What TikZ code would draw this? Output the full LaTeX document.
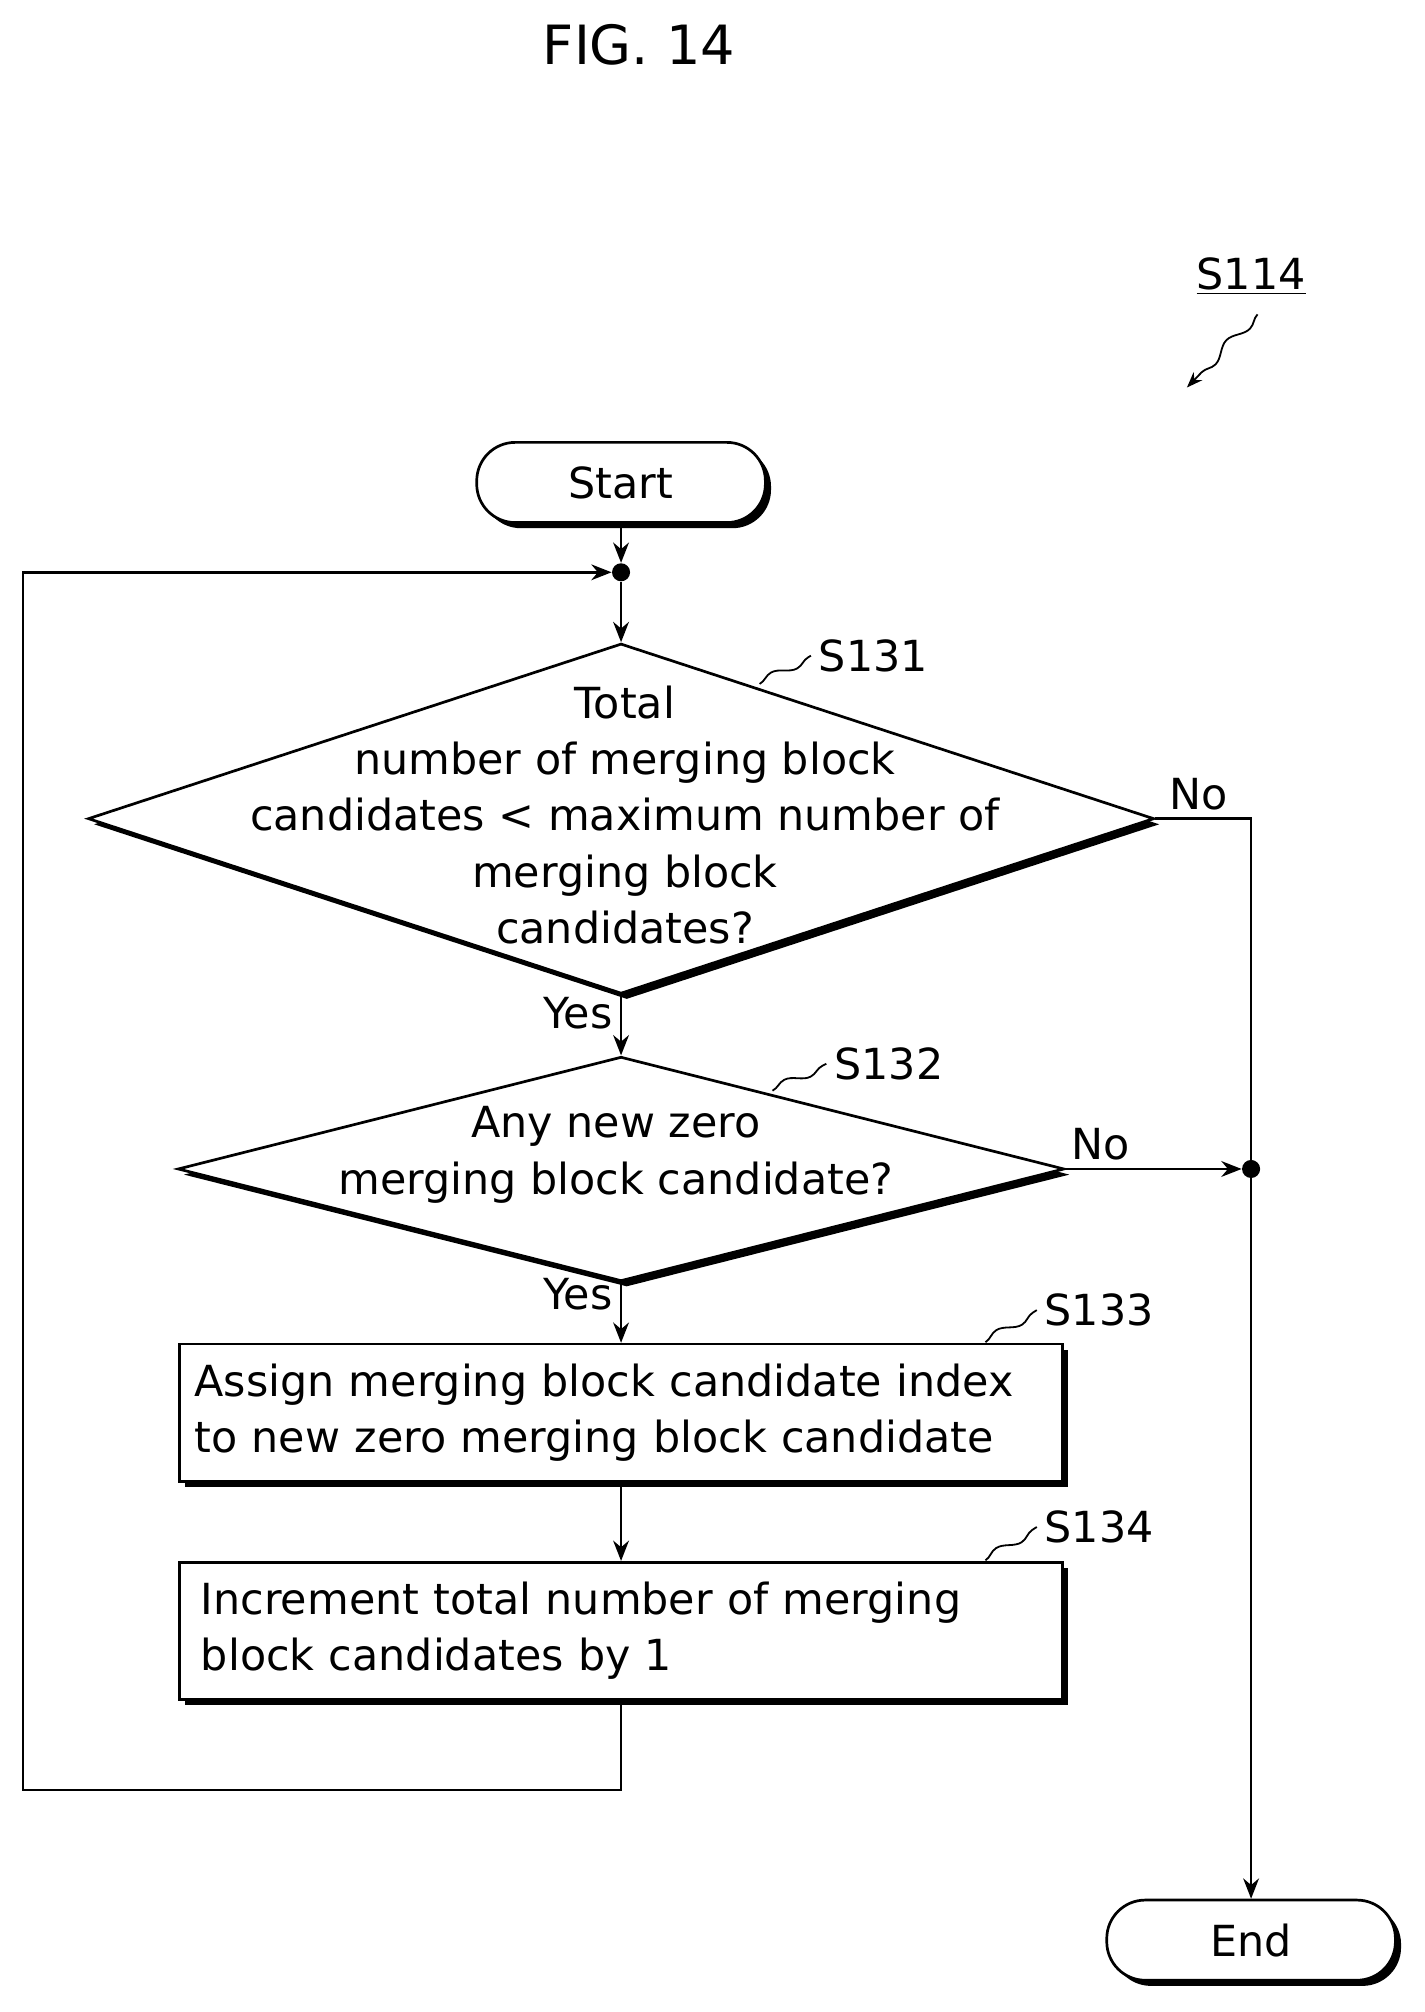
\documentclass[tikz,border=0pt]{standalone}
\usepackage{fontspec}
\setmainfont{DejaVu Sans}
\usetikzlibrary{shapes.geometric,shadows,arrows.meta,decorations.pathmorphing}
\tikzset{
 base/.style={draw, line width=1.2pt, fill=white,
   drop shadow={opacity=1, fill=black, shadow xshift=2.5pt, shadow yshift=-2.5pt}},
 term/.style={base, rounded corners=0.6cm, minimum width=4.5cm, minimum height=1.25cm},
 dia/.style={base, diamond, inner sep=0pt},
 proc/.style={base, rectangle, minimum width=13.76cm, minimum height=2.14cm},
 txt/.style={align=left, font=\fontsize{19}{25}\selectfont},
 flow/.style={line width=1.1pt, -{Stealth[length=9pt,width=7pt]}},
 dot/.style={circle, fill=black, inner sep=0pt, minimum size=8pt},
 steplbl/.style={font=\fontsize{19}{22}\selectfont, anchor=west},
 wig/.style={line width=0.8pt, decorate, decoration={snake, amplitude=2pt, segment length=22pt}}
}
\begin{document}
\begin{tikzpicture}[x=0.02cm, y=-0.02cm]
\useasboundingbox (0,0) rectangle (1110,1568);

\node[font=\fontsize{24}{28}\selectfont] (fig) at (498,35) {FIG. 14};
\node[font=\fontsize{19}{22}\selectfont] (main) at (975,215) {\underline{S114}};
\coordinate (arr) at (925,302);
\draw[wig, -{Stealth[length=7pt]}] (980,245) -- (arr);

% flow chart
\node[term] (start) at (484,376) {\fontsize{19}{22}\selectfont Start};
\node[dot] (top) at (484,446) {};
\node[dia, minimum width=16.62cm, minimum height=5.46cm] (s131) at (484,638) {};
\node[txt, align=center] (t131) at (487,635) {Total\\number of merging block\\candidates < maximum number of\\merging block\\candidates?};
\node[dia, minimum width=13.82cm, minimum height=3.5cm] (s132) at (484,911) {};
\node[txt, align=center] (t132) at (480,900) {Any new zero\\merging block candidate?};
\node[proc, text width=13.3cm, txt] (s133) at (484,1101) {Assign merging block candidate index\\to new zero merging block candidate};
\node[proc, text width=13.1cm, txt] (s134) at (484,1271) {Increment total number of merging\\block candidates by 1};
\node[dot] (join) at (975,911) {};
\node[term] (end) at (975,1512) {\fontsize{19}{22}\selectfont End};

\draw[flow] (start) -- (top);
\draw[flow] (top) -- (s131.north);
\draw[flow] (s131.south) -- node[pos=0.3, left, txt] {Yes} (s132.north);
\draw[flow] (s132.south) -- node[pos=0.2, left, txt] {Yes} (s133.north);
\draw[flow] (s133) -- (s134);
\draw[flow] (s134.south) -- (484,1395) -- (18,1395) -- (18,446) -- (top);
\draw[line width=1.1pt] (s131.east) -- node[pos=0.45, above, txt] {No} (join |- s131.east) -- (join);
\draw[flow] (s132.east) -- node[pos=0.2, above, txt] {No} (join);
\draw[flow] (join) -- (end);

% step labels
\node[steplbl] (l131) at (632,511) {S131};
\draw[wig] (592,533) -- (l131.west);
\node[steplbl] (l132) at (644,829) {S132};
\draw[wig] (602,850) -- (l132.west);
\node[steplbl] (l133) at (808,1021) {S133};
\draw[wig] (768,1046) -- (l133.west);
\node[steplbl] (l134) at (808,1190) {S134};
\draw[wig] (768,1216) -- (l134.west);
\end{tikzpicture}
\end{document}
